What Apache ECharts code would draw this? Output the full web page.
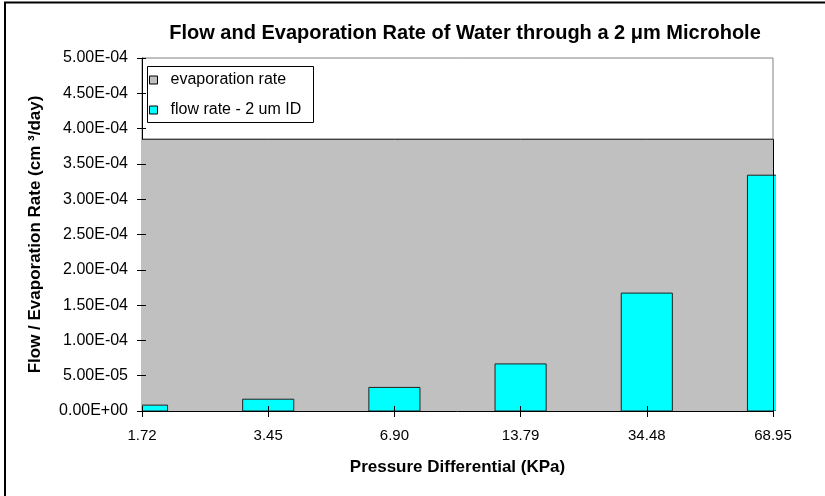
<!DOCTYPE html>
<html>
<head>
<meta charset="utf-8">
<script src="https://cdn.jsdelivr.net/npm/echarts@6/dist/echarts.min.js"></script>
<style>
html,body{margin:0;padding:0;background:#fff;}
#chart{width:825px;height:496px;}
</style>
</head>
<body>
<div id="chart"></div>
<script>
const categories = ['1.72', '3.45', '6.90', '13.79', '34.48', '68.95'];
const evaporationRate = [3.85e-4, 3.85e-4, 3.85e-4, 3.85e-4, 3.85e-4, 3.85e-4];
const flowRate = [8.3e-6, 1.67e-5, 3.34e-5, 6.67e-5, 1.67e-4, 3.34e-4];
const yTicks = { min: 0, max: 5e-4, interval: 5e-5 };
const seriesNames = ['evaporation rate', 'flow rate - 2 um ID'];

function fmtExp(v) {
  let s = Number(v).toExponential(2).toUpperCase();
  return s.replace(/E([+-])(\d)$/, 'E$10$2');
}

const FONT = '"Liberation Sans", Arial, sans-serif';
const chart = echarts.init(document.getElementById('chart'), null, { renderer: 'canvas' });
const lastCat = categories[categories.length - 1];
const flowData = categories.map((c, i) => [i, flowRate[i]]);

chart.setOption({
  animation: false,
  backgroundColor: '#fff',
  textStyle: { fontFamily: FONT },
  title: {
    text: 'Flow and Evaporation Rate of Water through a 2 \u03bcm Microhole',
    left: 460, top: 18, textAlign: 'center',
    textStyle: { fontFamily: FONT, fontSize: 20, fontWeight: 'bold', color: '#000' }
  },
  graphic: [
    { type: 'rect', z: -10, shape: { x: 5, y: 2.5, width: 840, height: 520 },
      style: { fill: 'none', stroke: '#000', lineWidth: 2 } },
    { type: 'rect', z: 3, shape: { x: 147.5, y: 66.5, width: 166, height: 56 },
      style: { fill: '#fff', stroke: '#000', lineWidth: 1 } }
  ],
  legend: {
    orient: 'vertical', left: 149, top: 72, padding: 0, z: 5,
    itemWidth: 8, itemHeight: 8, itemGap: 14,
    textStyle: { fontFamily: FONT, fontSize: 16, color: '#000', lineHeight: 14, padding: [0, 0, 0, 8] },
    data: [
      { name: seriesNames[0], icon: 'rect', itemStyle: { color: '#C0C0C0', borderColor: '#000', borderWidth: 1 } },
      { name: seriesNames[1], icon: 'rect', itemStyle: { color: '#00FFFF', borderColor: '#000', borderWidth: 1 } }
    ]
  },
  grid: { left: 142, right: 52, top: 58, bottom: 85, show: true, borderColor: '#808080', borderWidth: 1, backgroundColor: 'transparent' },
  xAxis: [{
    type: 'category', data: categories, boundaryGap: false,
    name: 'Pressure Differential (KPa)', nameLocation: 'middle', nameGap: 48,
    nameTextStyle: { fontFamily: FONT, fontSize: 17, fontWeight: 'bold', color: '#000' },
    axisLine: { lineStyle: { color: '#000', width: 1 } },
    axisTick: { show: true, inside: false, length: 6, lineStyle: { color: '#000' } },
    axisLabel: { fontFamily: FONT, fontSize: 15, color: '#000', margin: 17 },
    splitLine: { show: false }
  }, {
    type: 'category', data: categories, boundaryGap: false, position: 'bottom', z: 10,
    axisLine: { show: false },
    axisTick: { show: true, inside: true, length: 5, lineStyle: { color: '#000' } },
    axisLabel: { show: false }, splitLine: { show: false }
  }],
  yAxis: [{
    type: 'value', min: yTicks.min, max: yTicks.max, interval: yTicks.interval,
    name: 'Flow / Evaporation Rate (cm \u00b3/day)', nameLocation: 'middle', nameGap: 98,
    nameTextStyle: { fontFamily: FONT, fontSize: 17, fontWeight: 'bold', color: '#000' },
    axisLine: { show: true, lineStyle: { color: '#000', width: 1 } },
    axisTick: { show: true, inside: false, length: 5, lineStyle: { color: '#000' } },
    axisLabel: { fontFamily: FONT, fontSize: 16, color: '#000', margin: 14, formatter: fmtExp },
    splitLine: { show: false }
  }, {
    type: 'value', min: yTicks.min, max: yTicks.max, interval: yTicks.interval, position: 'left', z: 10,
    axisLine: { show: false },
    axisTick: { show: true, inside: true, length: 4, lineStyle: { color: '#000' } },
    axisLabel: { show: false }, splitLine: { show: false }
  }],
  series: [{
    name: seriesNames[0], type: 'line', data: evaporationRate, symbol: 'none',
    lineStyle: { color: '#000', width: 1 },
    itemStyle: { color: '#C0C0C0' },
    areaStyle: { color: '#C0C0C0', opacity: 1 },
    z: 1,
    markLine: {
      silent: true, symbol: ['none', 'none'], label: { show: false },
      lineStyle: { color: '#000', width: 1, type: 'solid' },
      data: [[{ coord: [lastCat, 0] }, { coord: [lastCat, evaporationRate[evaporationRate.length - 1]] }]]
    }
  }, {
    name: seriesNames[1], type: 'custom', data: flowData, z: 3,
    encode: { x: 0, y: 1 },
    itemStyle: { color: '#00FFFF', borderColor: '#222', borderWidth: 1 },
    renderItem: function (params, api) {
      const top = api.coord([api.value(0), api.value(1)]);
      const base = api.coord([api.value(0), 0]);
      const w = api.size([1, 0])[0] * 0.405;
      const cs = params.coordSys;
      return {
        type: 'rect',
        shape: { x: top[0] - w / 2, y: top[1], width: w, height: base[1] - top[1] },
        style: { fill: '#00FFFF', stroke: '#222', lineWidth: 1 },
        clipPath: { type: 'rect', shape: { x: cs.x, y: cs.y - 2, width: cs.width + 3, height: cs.height + 2 } }
      };
    }
  }]
});
</script>
</body>
</html>
